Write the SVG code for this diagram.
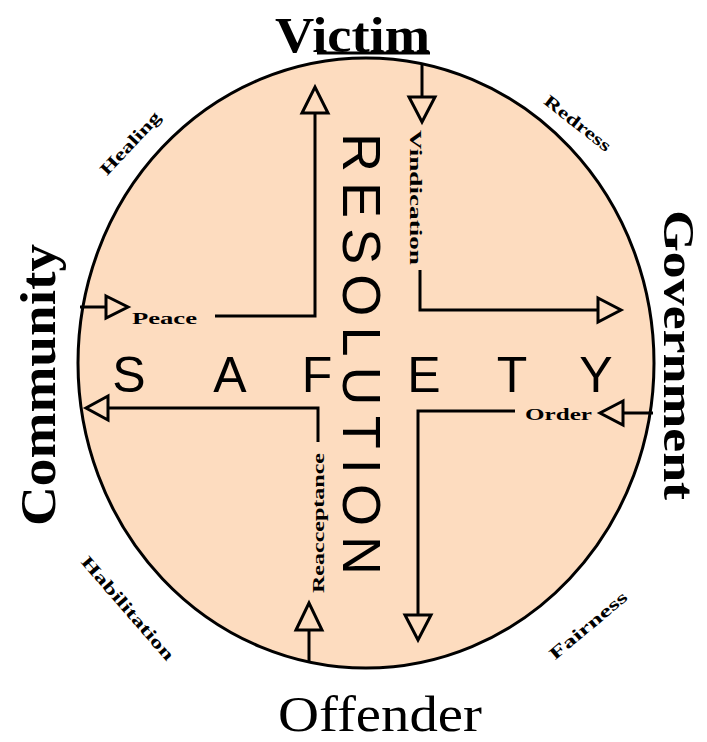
<svg xmlns="http://www.w3.org/2000/svg" width="707" height="742" viewBox="0 0 707 742">
<style>
.ln{fill:none;stroke:#000;stroke-width:3;stroke-linejoin:miter}
.hd{fill:#FDDCBF;stroke:#000;stroke-width:3;stroke-linejoin:miter}
.big{font-family:"Liberation Serif",serif;font-weight:bold;font-size:50px;fill:#000}
.off{font-family:"Liberation Serif",serif;font-size:50px;fill:#000}
.sm{font-family:"Liberation Serif",serif;font-weight:bold;font-size:17px;fill:#000}
.sans{font-family:"Liberation Sans",Arial,sans-serif;font-size:50px;fill:#000;text-anchor:middle}
</style>
<rect width="707" height="742" fill="#fff"/>
<g id="circle">
<ellipse cx="366" cy="363" rx="288" ry="305" fill="#FDDCBF" stroke="#000" stroke-width="3"/>
</g>
<g id="connectors">
<path class="ln" d="M80,307 H106"/>
<polygon class="hd" points="106,296 128,307 106,318"/>
<path class="ln" d="M215,316 H315 V113"/>
<polygon class="hd" points="302,113 315,87 328,113"/>
<path class="ln" d="M422,63 V97"/>
<polygon class="hd" points="409,97 435,97 422,122"/>
<path class="ln" d="M420,270 V310 H598"/>
<polygon class="hd" points="598,298 621,310 598,322"/>
<path class="ln" d="M653,413 H623"/>
<polygon class="hd" points="623,401 600,413 623,425"/>
<path class="ln" d="M515,411 H418 V615"/>
<polygon class="hd" points="405,615 431,615 418,640"/>
<path class="ln" d="M318,442 V408 H108"/>
<polygon class="hd" points="108,396 86,408 108,420"/>
<path class="ln" d="M309,630 V663"/>
<polygon class="hd" points="296,630 309,603 322,630"/>
<path class="ln" d="M317,53 H430" stroke-width="2.5"/>
</g>
<g id="victim"><text class="big" x="275" y="52" textLength="155" lengthAdjust="spacingAndGlyphs">Victim</text></g>
<g id="offender"><text class="off" x="278" y="731" textLength="204" lengthAdjust="spacingAndGlyphs">Offender</text></g>
<g id="community"><text class="big" transform="translate(55,526) rotate(-90)" textLength="282" lengthAdjust="spacingAndGlyphs">Community</text></g>
<g id="government"><text class="big" style="font-size:44px" transform="translate(664,210) rotate(90)" textLength="290" lengthAdjust="spacingAndGlyphs">Government</text></g>
<g id="healing"><text class="sm" transform="translate(130,143) rotate(-47)" x="-40" y="6" textLength="80" lengthAdjust="spacingAndGlyphs">Healing</text></g>
<g id="redress"><text class="sm" transform="translate(578,123) rotate(38)" x="-40" y="6" textLength="80" lengthAdjust="spacingAndGlyphs">Redress</text></g>
<g id="habilitation"><text class="sm" transform="translate(128,608) rotate(49)" x="-66" y="6" textLength="132" lengthAdjust="spacingAndGlyphs">Habilitation</text></g>
<g id="fairness"><text class="sm" transform="translate(588,625) rotate(-40)" x="-48" y="6" textLength="96" lengthAdjust="spacingAndGlyphs">Fairness</text></g>
<g id="peace"><text class="sm" x="132" y="324" textLength="65" lengthAdjust="spacingAndGlyphs">Peace</text></g>
<g id="order"><text class="sm" x="525" y="420" textLength="67" lengthAdjust="spacingAndGlyphs">Order</text></g>
<g id="vindication"><text class="sm" transform="translate(410,130) rotate(90)" textLength="135" lengthAdjust="spacingAndGlyphs">Vindication</text></g>
<g id="reacceptance"><text class="sm" transform="translate(324,593) rotate(-90)" textLength="140" lengthAdjust="spacingAndGlyphs">Reacceptance</text></g>
<g id="safety"><text class="sans" x="129 230 317 424 512 596" y="392">SAFETY</text></g>
<g id="resolution"><text class="sans" style="text-anchor:start;font-size:54px" transform="translate(343,133) rotate(90)" textLength="442" lengthAdjust="spacing">RESOLUTION</text></g>
</svg>
